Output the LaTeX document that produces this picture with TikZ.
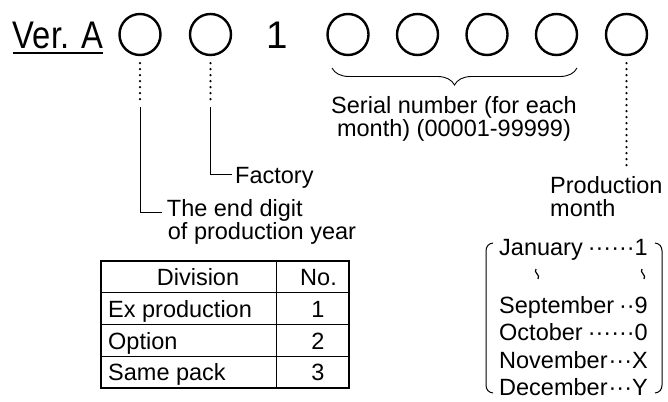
\documentclass[tikz,border=0pt]{standalone}
\usepackage{fontspec}
\setmainfont{Liberation Sans}
\usetikzlibrary{decorations.pathreplacing}
\begin{document}
\begin{tikzpicture}[x=1pt,y=-1pt,
  digit/.style={circle,draw,line width=2.4pt,minimum size=41pt,inner sep=0pt},
  lbl/.style={inner sep=0pt,font=\fontsize{23.5}{21}\selectfont},
  big/.style={inner sep=0pt,font=\fontsize{38.5}{40}\selectfont},
  dotline/.style={line width=2.5pt,line cap=round,dash pattern=on 0pt off 6pt},
  conn/.style={line width=1pt},
  outer/.style={line width=1.6pt},
  inner/.style={line width=0.9pt}]
\useasboundingbox (0,0) rectangle (668,401);

% header row
\node[big,anchor=base west] (ver) at (12.7,48.3) {\scalebox{0.85}[1]{Ver. A}};
\draw[line width=2pt] ([yshift=-5pt]ver.base west) -- ([yshift=-5pt]ver.base east);
\node[digit] (c1) at (140,34.5) {};
\node[digit] (c2) at (210.5,34.5) {};
\node[big,anchor=base] (one) at (277,49) {1};
\node[digit] (s1) at (348,34.5) {};
\node[digit] (s2) at (417.5,34.5) {};
\node[digit] (s3) at (487,34.5) {};
\node[digit] (s4) at (556.5,34.5) {};
\node[digit] (m) at (626.5,34.5) {};

% brace and serial label
\coordinate (br) at (577,68);
\coordinate (bl) at (332,68);
\draw[line width=0.9pt,decorate,decoration={brace,amplitude=17pt}] (br) -- (bl);
\node[lbl,anchor=base,align=center] (ser) at (454,136) {Serial number (for each\\month) (00001-99999)};

% year and factory
\node[lbl,anchor=base west,align=left,font=\fontsize{23.5}{19}\selectfont] (year) at (166.7,239) {The end digit\\\hspace*{1pt}of production year};
\node[lbl,anchor=base west] (fac) at (235,183.3) {Factory};
\coordinate (c1b) at (140,107);
\coordinate (c2b) at (210.5,107);
\coordinate (yearin) at (161.7,212.7);
\draw[dotline] ([yshift=-7pt]c1.south) -- ++(0,36.2);
\draw[dotline] ([yshift=-7pt]c2.south) -- ++(0,36.2);
\draw[conn] (c1b) |- (yearin);
\draw[conn] (c2b) |- ([xshift=-3.5pt,yshift=9pt]fac.base west);

% production month
\node[lbl,anchor=base west,align=left,font=\fontsize{23.5}{22.5}\selectfont] (prod) at (550,216) {Production\\month};
\coordinate (mend) at (626.5,168.5);
\draw[dotline] ([yshift=-7pt]m.south) -- (mend);

% month list
\node[lbl,anchor=base west] (jan) at (499,255) {January};
\node[lbl,anchor=base east] (jann) at (648,255) {······1};
\node[lbl,anchor=base west] (sep) at (499,313) {September};
\node[lbl,anchor=base east] (sepn) at (648,313) {··9};
\node[lbl,anchor=base west] (oct) at (499,340.5) {October};
\node[lbl,anchor=base east] (octn) at (648,340.5) {······0};
\node[lbl,anchor=base west] (nov) at (499,368) {November};
\node[lbl,anchor=base east] (novn) at (648,368) {···X};
\node[lbl,anchor=base west] (dec) at (499,395.5) {December};
\node[lbl,anchor=base east] (decn) at (648,395.5) {···Y};
\foreach \x in {537,643}{
  \draw[line width=1.2pt] (\x-1,269) .. controls (\x-4,272.5) and (\x+4,275) .. (\x+1,279);
}
\draw[conn] (493,243) .. controls (488.5,243.5) and (486,246.5) .. (486,251) -- (486,385)
  .. controls (486,389.5) and (488.5,392.5) .. (493,393);
\draw[conn] (655,243) .. controls (659.5,243.5) and (662,246.5) .. (662,251) -- (662,385)
  .. controls (662,389.5) and (659.5,392.5) .. (655,393);

% table
\draw[inner] (101,292.7) -- (349,292.7);
\draw[inner] (101,324.3) -- (349,324.3);
\draw[inner] (101,356.5) -- (349,356.5);
\draw[inner] (276.7,261) -- (276.7,387.7);
\draw[outer] (101,261) rectangle (349,387.7);
\node[lbl,anchor=base] (hdiv) at (198,285.4) {Division};
\node[lbl,anchor=base] (hno) at (318.5,285.4) {No.};
\node[lbl,anchor=base west] (r1) at (108,317) {Ex production};
\node[lbl,anchor=base] (n1) at (318,317) {1};
\node[lbl,anchor=base west] (r2) at (108,349) {Option};
\node[lbl,anchor=base] (n2) at (318,349) {2};
\node[lbl,anchor=base west] (r3) at (108,380.5) {Same pack};
\node[lbl,anchor=base] (n3) at (318,380.5) {3};
\end{tikzpicture}
\end{document}
